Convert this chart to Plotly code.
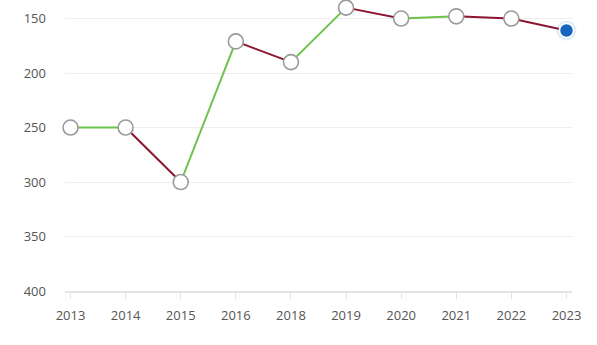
import plotly.graph_objects as go

years = ["2013", "2014", "2015", "2016", "2018", "2019", "2020", "2021", "2022", "2023"]
ranks = [250, 250, 300, 171, 190, 140, 150, 148, 150, 161]
y_ticks = [150, 200, 250, 300, 350, 400]

GREEN = "#6cc24a"
RED = "#8c1530"

fig = go.Figure()

for i in range(len(years) - 1):
    color = GREEN if ranks[i + 1] <= ranks[i] else RED
    fig.add_trace(go.Scatter(
        x=years[i:i + 2], y=ranks[i:i + 2], mode="lines",
        line=dict(color=color, width=2), hoverinfo="skip", showlegend=False,
        cliponaxis=False,
    ))

fig.add_trace(go.Scatter(
    x=years[:-1], y=ranks[:-1], mode="markers",
    marker=dict(size=15, color="white", line=dict(color="#9a9a9a", width=1.6)),
    showlegend=False, cliponaxis=False,
))
fig.add_trace(go.Scatter(
    x=years[-1:], y=ranks[-1:], mode="markers",
    marker=dict(size=20, color="rgba(21,101,192,0.12)", line=dict(width=0)),
    showlegend=False, hoverinfo="skip", cliponaxis=False,
))
fig.add_trace(go.Scatter(
    x=years[-1:], y=ranks[-1:], mode="markers",
    marker=dict(size=14, color="#1565c0", line=dict(color="white", width=1.5)),
    showlegend=False, cliponaxis=False,
))

fig.update_layout(
    width=597, height=345,
    margin=dict(l=65, r=25, t=0, b=54),
    paper_bgcolor="white", plot_bgcolor="white",
    font=dict(family="Open Sans, sans-serif", size=13, color="#555555"),
    xaxis=dict(
        type="category", categoryorder="array", categoryarray=years,
        range=[-0.1, 9.1],
        showgrid=False, showline=True, linecolor="#e3e3e3", linewidth=1.5,
        ticks="outside", ticklen=6, tickcolor="#e3e3e3", tickwidth=1,
        ticklabelstandoff=6, zeroline=False,
    ),
    yaxis=dict(
        range=[400, 133], tickvals=y_ticks,
        showgrid=True, gridcolor="#eeeeee", gridwidth=1,
        zeroline=False, showline=False, ticks="",
        ticklabelstandoff=18,
    ),
)

fig.write_html("out.html")
